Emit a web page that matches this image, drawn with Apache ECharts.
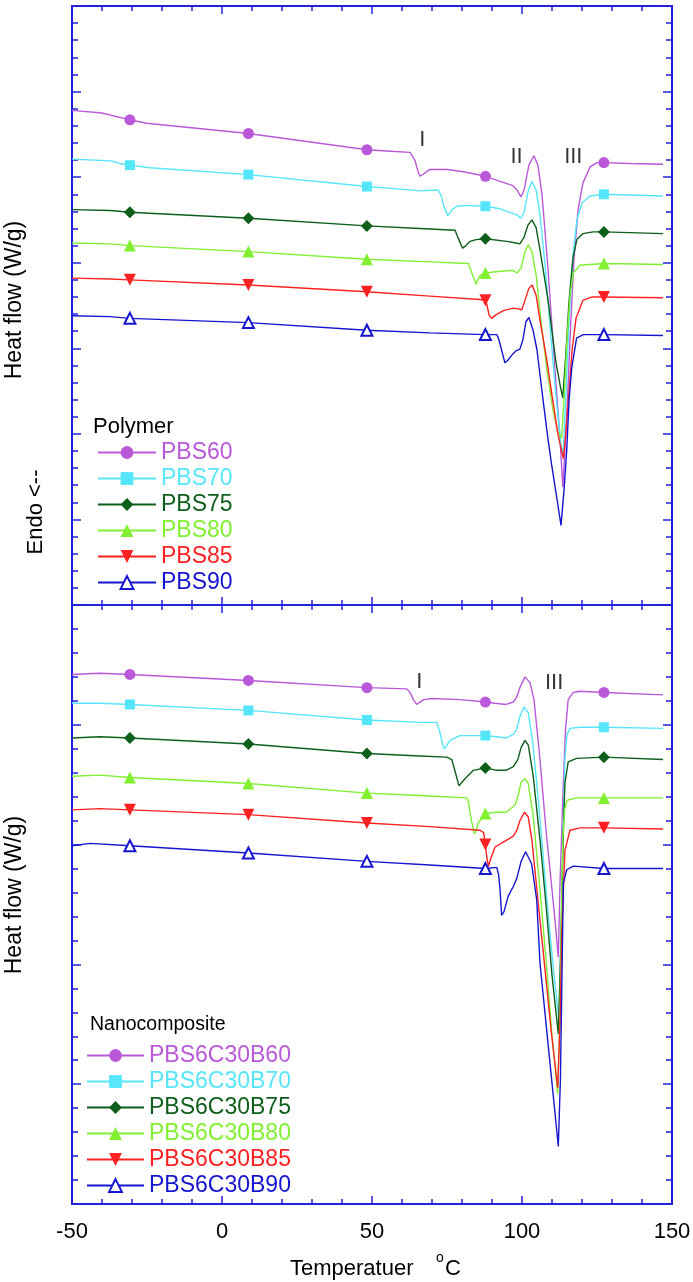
<!DOCTYPE html>
<html>
<head>
<meta charset="utf-8">
<script src="https://cdn.jsdelivr.net/npm/echarts@6/dist/echarts.min.js"></script>
<style>
  html, body { margin: 0; padding: 0; background: #ffffff; }
  #chart { width: 693px; height: 1282px; }
</style>
</head>
<body>
<div id="chart"></div>
<script>
// Temperature axis (°C) shared by both DSC panels
const tempTicks = [-50, 0, 50, 100, 150];
// Heat-flow ranges of the two panels (W/g, offset curves)
const polymerFlowRange = [0, 7];
const nanoFlowRange = [0, 5];
// Temperatures at which the curve symbols are drawn
const markerTemps = [-30.7, 8.8, 48.3, 87.8, 127.3];

const polymerNames = ['PBS60', 'PBS70', 'PBS75', 'PBS80', 'PBS85', 'PBS90'];
const nanoNames = ['PBS6C30B60', 'PBS6C30B70', 'PBS6C30B75', 'PBS6C30B80', 'PBS6C30B85', 'PBS6C30B90'];

// ---- Polymer heating scans: [T (°C), heat flow] ----
const pbs60 = [[-50,5.78],[-40,5.75],[-30.7,5.67],[-25.1,5.63],[8.8,5.51],[48.3,5.32],[57.7,5.30],[62.7,5.29],[64.3,5.20],[65.3,5.07],[66,5.01],[67.3,5.04],[69.3,5.09],[75,5.09],[81,5.06],[87.8,5.01],[92.7,4.95],[97,4.90],[98.3,4.85],[99.7,4.77],[100.7,4.85],[102.3,5.14],[104,5.25],[105.3,5.14],[106.7,4.79],[108.7,3.91],[111,2.75],[112.7,1.93],[113.6,1.38],[114.3,1.81],[115.3,2.51],[116.3,3.33],[117.3,4.03],[118.7,4.62],[120.3,4.93],[122.7,5.12],[125,5.17],[127.3,5.17],[136,5.16],[147,5.15]];
const pbs70 = [[-50,5.21],[-37,5.19],[-34,5.16],[-30.7,5.14],[-24,5.11],[8.8,5.03],[48.3,4.89],[59.3,4.86],[66,4.84],[72,4.85],[73,4.79],[74,4.65],[75.3,4.55],[76.7,4.62],[78.3,4.66],[81,4.67],[87.8,4.66],[92.7,4.63],[96.7,4.58],[98.3,4.56],[99.6,4.52],[100.7,4.59],[102,4.83],[103.3,4.95],[104.7,4.85],[106,4.56],[107.7,3.97],[109.3,3.27],[111.3,2.45],[113,1.87],[113.7,1.75],[114.7,2.51],[115.7,3.33],[117,4.09],[118.3,4.50],[120,4.70],[122.7,4.78],[127.3,4.80],[147,4.78]];
const pbs75 = [[-50,4.62],[-37.3,4.61],[-30.7,4.59],[8.8,4.52],[48.3,4.43],[66,4.40],[77.7,4.38],[78.7,4.29],[80.2,4.17],[81.3,4.20],[82.7,4.25],[84.7,4.27],[87.8,4.28],[94.9,4.25],[98,4.23],[99.3,4.22],[100.7,4.30],[102,4.44],[103.3,4.50],[104.7,4.41],[106,4.15],[108.7,3.56],[111.3,2.84],[112.7,2.57],[113.6,2.42],[114.7,2.98],[115.7,3.56],[117,4.06],[118.3,4.27],[120.3,4.34],[123.7,4.36],[127.3,4.36],[147,4.34]];
const pbs80 = [[-50,4.23],[-37.3,4.22],[-30.7,4.20],[8.8,4.13],[48.3,4.04],[69.3,4.01],[82.1,3.99],[83.3,3.88],[84.7,3.75],[85.3,3.80],[86,3.85],[87.8,3.88],[92.7,3.90],[97,3.91],[98.3,3.88],[99.7,3.94],[101,4.13],[102.1,4.21],[103.3,4.13],[104.7,3.86],[106.3,3.33],[108.3,2.75],[110.3,2.28],[112,2.02],[113.2,1.95],[114,2.40],[115,3.10],[116,3.62],[117.1,3.88],[119.3,3.97],[127.3,3.99],[147,3.98]];
const pbs85 = [[-50,3.82],[-37.3,3.81],[-30.7,3.80],[8.8,3.74],[48.3,3.66],[69.3,3.61],[86,3.57],[87.8,3.56],[88.3,3.51],[89,3.39],[89.9,3.35],[91.3,3.39],[93.8,3.44],[97.1,3.47],[98.7,3.46],[99.9,3.45],[101,3.56],[102.3,3.70],[103.4,3.74],[104.7,3.62],[106,3.33],[108,2.92],[110,2.45],[112,1.99],[113.8,1.71],[114.7,2.05],[115.7,2.51],[116.7,2.98],[118,3.35],[120.3,3.56],[123.3,3.60],[127.3,3.60],[147,3.59]];
const pbs90 = [[-50,3.38],[-37.3,3.37],[-30.7,3.35],[8.8,3.30],[48.3,3.21],[69.3,3.18],[87.8,3.16],[91.6,3.16],[92.3,3.10],[93.2,2.98],[94.3,2.83],[95.3,2.86],[96.6,2.92],[98,2.97],[99.3,2.99],[100.3,3.10],[101.3,3.31],[102.3,3.36],[103.7,3.21],[105,2.98],[107,2.40],[108.7,1.93],[110,1.61],[111.7,1.23],[113,0.93],[114,1.34],[114.9,1.81],[115.7,2.40],[116.6,2.78],[118.2,3.12],[120.4,3.16],[127.3,3.16],[147,3.15]];

// ---- Nanocomposite heating scans: [T (°C), heat flow] ----
const nano60 = [[-50,4.42],[-40.7,4.43],[-30.7,4.42],[8.8,4.37],[48.3,4.31],[61.6,4.30],[62.7,4.27],[63.8,4.21],[64.9,4.17],[66,4.19],[67.3,4.21],[70,4.22],[79.3,4.21],[87.8,4.19],[91,4.18],[94.7,4.17],[97.1,4.19],[98.2,4.23],[99.3,4.31],[101,4.40],[102.7,4.35],[104,4.21],[106,3.71],[108,3.12],[109.7,2.70],[111,2.37],[112.1,2.06],[112.7,2.70],[113.7,3.46],[114.5,3.96],[115.4,4.21],[117.1,4.27],[119.3,4.28],[127.3,4.27],[147,4.25]];
const nano70 = [[-50,4.18],[-40.7,4.18],[-30.7,4.17],[8.8,4.12],[48.3,4.04],[66,4.02],[71.6,4.02],[72.7,3.93],[73.5,3.84],[74.1,3.80],[75,3.83],[76,3.87],[79.3,3.91],[87.8,3.91],[91.6,3.90],[94.7,3.89],[97.1,3.92],[98.2,3.96],[99.3,4.07],[100.7,4.15],[102.1,4.10],[103.7,3.83],[106,3.21],[108.3,2.54],[110.3,2.00],[112.3,1.54],[113,2.20],[113.7,3.12],[114.3,3.71],[115,3.92],[116,3.97],[119.3,3.98],[127.3,3.98],[147,3.97]];
const nano75 = [[-50,3.89],[-40.7,3.90],[-30.7,3.89],[8.8,3.84],[48.3,3.76],[66,3.74],[74.9,3.73],[76.6,3.71],[77.7,3.61],[79,3.49],[80,3.52],[81,3.55],[83.8,3.62],[87.8,3.64],[91.6,3.62],[94.7,3.62],[97.1,3.65],[98.6,3.71],[99.7,3.81],[101,3.87],[102.1,3.83],[103.7,3.58],[106,3.04],[108,2.50],[110,1.91],[112.1,1.42],[113,2.20],[113.7,3.04],[114.3,3.51],[115.4,3.69],[118.2,3.72],[127.3,3.73],[147,3.71]];
const nano80 = [[-50,3.57],[-40.7,3.58],[-30.7,3.56],[8.8,3.51],[48.3,3.43],[66,3.41],[81.6,3.39],[82.1,3.36],[83,3.22],[84.1,3.09],[84.8,3.12],[85.4,3.18],[87.8,3.26],[91,3.27],[94.7,3.27],[96.7,3.31],[97.7,3.33],[98.7,3.41],[99.7,3.52],[101,3.55],[102.1,3.51],[103.7,3.25],[106,2.62],[108,2.04],[110,1.41],[111.9,0.92],[112.7,1.62],[113.2,2.54],[113.6,3.04],[114.2,3.29],[115,3.37],[118.2,3.39],[127.3,3.39],[147,3.39]];
const nano85 = [[-50,3.29],[-40.7,3.30],[-30.7,3.29],[8.8,3.25],[48.3,3.18],[69.3,3.15],[86,3.12],[87.2,3.10],[87.8,3.00],[88.3,2.89],[88.8,2.82],[89.7,2.89],[91,2.98],[93.8,3.02],[97.1,3.07],[98.3,3.12],[99.3,3.20],[100.8,3.27],[102.1,3.23],[103.3,3.04],[105.3,2.54],[107.7,1.95],[109.7,1.45],[111.9,0.97],[112.7,1.54],[113.3,2.29],[114.3,2.95],[116,3.12],[119.3,3.14],[127.3,3.14],[147,3.13]];
const nano90 = [[-50,2.99],[-44,3.01],[-30.7,2.99],[8.8,2.93],[48.3,2.86],[69.3,2.83],[87.8,2.80],[91.6,2.81],[92.2,2.75],[92.7,2.62],[93.2,2.41],[94,2.44],[95.4,2.57],[97.1,2.65],[98.3,2.72],[99.7,2.86],[101.2,2.94],[103.2,2.84],[104.9,2.54],[106,2.01],[108.8,1.31],[111,0.76],[112.1,0.48],[112.8,1.04],[113.3,1.87],[113.8,2.68],[114.9,2.79],[117.1,2.82],[127.3,2.80],[147,2.80]];

// Transition labels: [text, T, heat flow]
const polymerPeakLabels = [['I', 66.8, 5.43], ['II', 98.2, 5.24], ['III', 117.1, 5.24]];
const nanoPeakLabels = [['I', 65.8, 4.36], ['III', 110.7, 4.35]];

const FONT = "'Liberation Sans', Arial, Helvetica, sans-serif";
const AXIS_BLUE = '#2222dd';

const curveStyles = [
  { color: '#b959d9', symbol: 'circle', size: 11, rotate: 0 },
  { color: '#56e6fb', symbol: 'rect', size: 10, rotate: 0 },
  { color: '#0d5f1b', symbol: 'diamond', size: 12, rotate: 0 },
  { color: '#80f030', symbol: 'triangle', size: 12, rotate: 0 },
  { color: '#ff2121', symbol: 'triangle', size: 12, rotate: 180 },
  { color: '#1515d0', symbol: 'emptyTriangle', size: 11, rotate: 0 }
];

const polymerCurves = [pbs60, pbs70, pbs75, pbs80, pbs85, pbs90];
const nanoCurves = [nano60, nano70, nano75, nano80, nano85, nano90];

function curveSeries(name, points, style, axisIndex) {
  return {
    name: name,
    type: 'line',
    xAxisIndex: axisIndex,
    yAxisIndex: axisIndex,
    data: points.map(function (p) {
      return markerTemps.indexOf(p[0]) >= 0 ? { value: p } : { value: p, symbol: 'none' };
    }),
    symbol: style.symbol,
    symbolSize: style.size,
    symbolRotate: style.rotate,
    showSymbol: true,
    showAllSymbol: true,
    lineStyle: { color: style.color, width: 1.4 },
    itemStyle: { color: style.color, borderWidth: 1 },
    silent: true,
    animation: false,
    emphasis: { disabled: true }
  };
}

function labelSeries(labels, axisIndex) {
  return {
    type: 'scatter',
    xAxisIndex: axisIndex,
    yAxisIndex: axisIndex,
    symbolSize: 0.01,
    itemStyle: { color: 'transparent' },
    silent: true,
    animation: false,
    label: {
      show: true, position: 'inside', formatter: '{b}',
      color: '#000', fontSize: 22, fontFamily: FONT
    },
    data: labels.map(function (l) { return { name: l[0], value: [l[1], l[2]] }; })
  };
}

function xAxisDef(gridIndex, position, showLabels) {
  return {
    type: 'value', gridIndex: gridIndex, position: position,
    min: tempTicks[0], max: tempTicks[tempTicks.length - 1],
    interval: tempTicks[1] - tempTicks[0],
    axisLine: { show: true, onZero: false, lineStyle: { color: AXIS_BLUE, width: 2 } },
    axisTick: { show: true, inside: true, length: 8, lineStyle: { color: AXIS_BLUE, width: 1.5 } },
    minorTick: { show: true, splitNumber: 5, length: 5, lineStyle: { color: AXIS_BLUE, width: 1.5 } },
    splitLine: { show: false }, minorSplitLine: { show: false },
    axisLabel: {
      show: showLabels, color: '#000', fontSize: 22, fontFamily: FONT, margin: 17
    }
  };
}

function yAxisDef(gridIndex, position, range) {
  return {
    type: 'value', gridIndex: gridIndex, position: position,
    min: range[0], max: range[1], interval: 1,
    axisLine: { show: true, onZero: false, lineStyle: { color: AXIS_BLUE, width: 2 } },
    axisTick: { show: true, inside: true, length: 9, lineStyle: { color: AXIS_BLUE, width: 1.5 } },
    minorTick: { show: true, splitNumber: 5, length: 6, lineStyle: { color: AXIS_BLUE, width: 1.5 } },
    splitLine: { show: false }, minorSplitLine: { show: false },
    axisLabel: { show: false }
  };
}

const series = [];
polymerNames.forEach(function (n, i) { series.push(curveSeries(n, polymerCurves[i], curveStyles[i], 0)); });
nanoNames.forEach(function (n, i) { series.push(curveSeries(n, nanoCurves[i], curveStyles[i], 2)); });
series.push(labelSeries(polymerPeakLabels, 0));
series.push(labelSeries(nanoPeakLabels, 2));

function legendDef(names, left, top, itemWidth) {
  return {
    orient: 'vertical', left: left, top: top, padding: 0,
    itemWidth: itemWidth, itemHeight: 16, itemGap: 3,
    selectedMode: false,
    textStyle: { fontSize: 23, fontFamily: FONT },
    data: names.map(function (n, i) { return { name: n, textStyle: { color: curveStyles[i].color } }; })
  };
}

const option = {
  backgroundColor: '#ffffff',
  animation: false,
  grid: [
    { left: 72, top: 6, width: 600, height: 599, outerBoundsMode: 'none' },
    { left: 72, top: 605, width: 600, height: 599, outerBoundsMode: 'none' }
  ],
  xAxis: [
    xAxisDef(0, 'bottom', false),
    xAxisDef(0, 'top', false),
    xAxisDef(1, 'bottom', true),
    xAxisDef(1, 'top', false)
  ],
  yAxis: [
    yAxisDef(0, 'left', polymerFlowRange),
    yAxisDef(0, 'right', polymerFlowRange),
    yAxisDef(1, 'left', nanoFlowRange),
    yAxisDef(1, 'right', nanoFlowRange)
  ],
  legend: [
    legendDef(polymerNames, 97, 441, 58),
    legendDef(nanoNames, 86, 1044, 57)
  ],
  title: [
    { text: 'Polymer', left: 93, top: 416, padding: 0,
      textStyle: { fontSize: 22, fontWeight: 'normal', color: '#000', fontFamily: FONT } },
    { text: 'Nanocomposite', left: 90, top: 1015, padding: 0,
      textStyle: { fontSize: 19.5, fontWeight: 'normal', color: '#000', fontFamily: FONT } }
  ],
  graphic: [
    { type: 'text', x: 15, y: 300, rotation: Math.PI / 2, silent: true,
      style: { text: 'Heat flow (W/g)', fontSize: 23, fontFamily: FONT, fill: '#000', align: 'center', verticalAlign: 'middle' } },
    { type: 'text', x: 36, y: 512, rotation: Math.PI / 2, silent: true,
      style: { text: 'Endo <--', fontSize: 22, fontFamily: FONT, fill: '#000', align: 'center', verticalAlign: 'middle' } },
    { type: 'text', x: 15, y: 895, rotation: Math.PI / 2, silent: true,
      style: { text: 'Heat flow (W/g)', fontSize: 23, fontFamily: FONT, fill: '#000', align: 'center', verticalAlign: 'middle' } },
    { type: 'text', x: 290, y: 1269, silent: true,
      style: { text: 'Temperatuer', fontSize: 22, fontFamily: FONT, fill: '#000', align: 'left', verticalAlign: 'middle' } },
    { type: 'text', x: 436, y: 1258, silent: true,
      style: { text: 'o', fontSize: 14, fontFamily: FONT, fill: '#000', align: 'left', verticalAlign: 'middle' } },
    { type: 'text', x: 445, y: 1269, silent: true,
      style: { text: 'C', fontSize: 22, fontFamily: FONT, fill: '#000', align: 'left', verticalAlign: 'middle' } }
  ],
  series: series
};

const chart = echarts.init(document.getElementById('chart'), null, { renderer: 'canvas' });
chart.setOption(option);
</script>
</body>
</html>
